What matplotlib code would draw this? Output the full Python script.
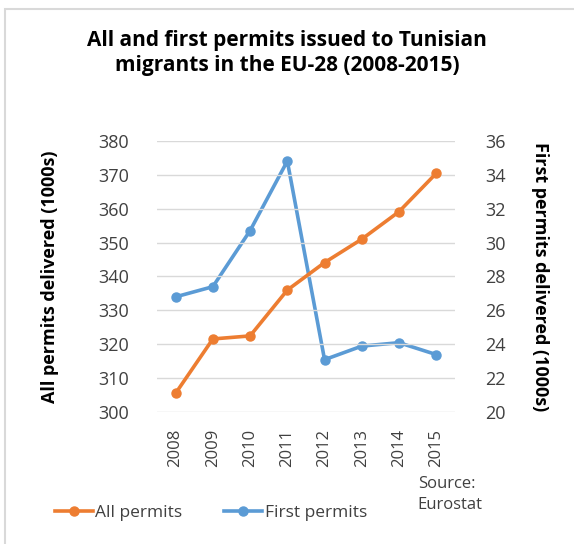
import matplotlib.pyplot as plt
from matplotlib.patches import Rectangle

plt.rcParams['font.family'] = ['Open Sans', 'DejaVu Sans']

years = ["2008", "2009", "2010", "2011", "2012", "2013", "2014", "2015"]
all_permits = [305.6, 321.6, 322.5, 336.0, 344.1, 351.0, 359.1, 370.4]
first_permits = [26.8, 27.4, 30.7, 34.8, 23.1, 23.9, 24.1, 23.4]

orange = "#ED7D31"
blue = "#5B9BD5"
txt = "#404040"

fig = plt.figure(figsize=(5.74, 5.44), dpi=100)
fig.patches.append(Rectangle((0.009, -0.01), 1.0, 0.993, transform=fig.transFigure,
                             fill=False, edgecolor="#D9D9D9", linewidth=1.5))

ax = fig.add_axes([0.2735, 0.2421, 0.519, 0.4993])
ax2 = ax.twinx()

x = range(len(years))
l2, = ax2.plot(x, first_permits, color=blue, lw=2.6, marker="o", ms=6.5, label="First permits", zorder=3)
l1, = ax.plot(x, all_permits, color=orange, lw=2.6, marker="o", ms=6.5, label="All permits", zorder=3)

ax.set_zorder(ax2.get_zorder() + 1)
ax.patch.set_visible(False)

ax.set_ylim(300, 380)
ax.set_yticks(range(300, 381, 10))
ax2.set_ylim(20, 36)
ax2.set_yticks(range(20, 37, 2))
ax.set_xlim(-0.5, len(years) - 0.5)
ax.set_xticks(list(x))
ax.set_xticklabels(years, rotation=90)

ax.yaxis.grid(True, color="#D9D9D9", lw=1)
ax.set_axisbelow(True)

for a in (ax, ax2):
    for s in a.spines.values():
        s.set_visible(False)
    a.tick_params(length=0, labelsize=13, labelcolor=txt)
ax.tick_params(axis="y", pad=20)
ax2.tick_params(axis="y", pad=22)
ax.tick_params(axis="x", pad=12, labelsize=12)

ax.set_ylabel("All permits delivered (1000s)", fontsize=13, fontweight="bold", labelpad=28)
ax2.set_ylabel("First permits delivered (1000s)", fontsize=13, fontweight="bold",
               rotation=-90, labelpad=31)

fig.text(0.5, 0.903, "All and first permits issued to Tunisian\nmigrants in the EU-28 (2008-2015)",
         ha="center", va="center", fontsize=15, fontweight="bold", linespacing=1.25)

fig.text(0.728, 0.091, "Source:\nEurostat", ha="left", va="center", fontsize=12,
         color=txt, linespacing=1.4)

fig.legend([l1, l2], ["All permits", "First permits"], loc="center left",
           bbox_to_anchor=(0.068, 0.057), ncol=2, frameon=False, fontsize=12.5,
           handlelength=2.2, handletextpad=0.15, columnspacing=2.4, labelcolor=txt)

fig.savefig("out.png", dpi=100)
